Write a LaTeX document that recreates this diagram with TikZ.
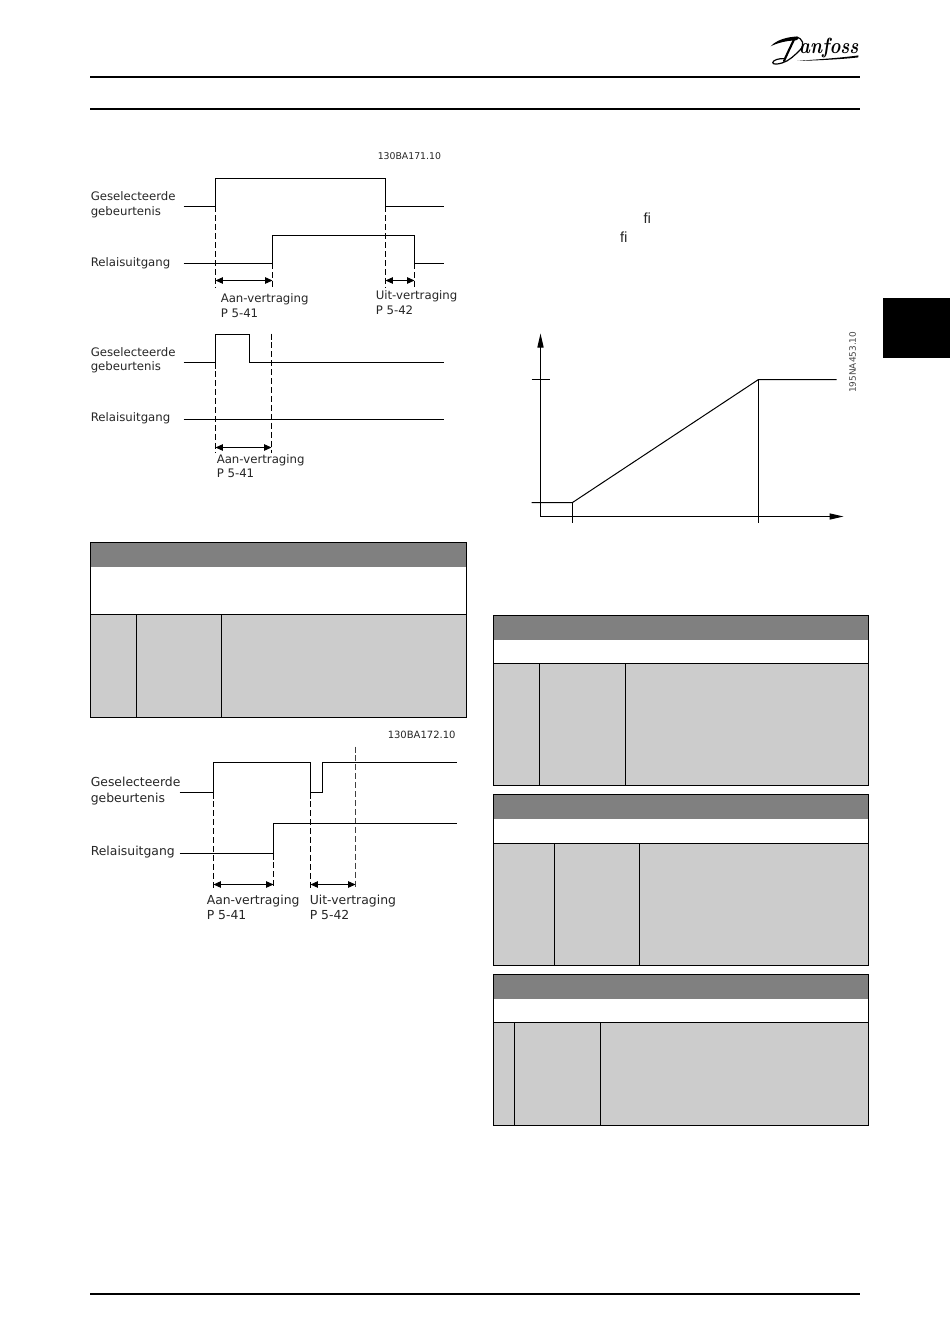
\documentclass[tikz,border=0pt]{standalone}
\usepackage{fontspec}
\setsansfont{DejaVu Sans}
\newfontfamily\ligfont{Liberation Sans}
\usetikzlibrary{arrows.meta}
\definecolor{hdrgrey}{HTML}{808080}
\definecolor{cellgrey}{HTML}{CCCCCC}
\definecolor{inkgrey}{HTML}{262626}
\tikzset{
  sig/.style={line width=0.75pt,black,line join=miter},
  dashline/.style={line width=0.6pt,black,dash pattern=on 4.5pt off 2.2pt},
  dimarrow/.style={line width=0.75pt,{Triangle[length=5.5pt,width=4.8pt]}-{Triangle[length=5.5pt,width=4.8pt]}},
  axisline/.style={line width=0.75pt,black},
  axisarrow/.style={line width=0.75pt,-{Triangle[length=10.5pt,width=4.6pt]}},
  rulebar/.style={line width=1.35pt,black},
  tabline/.style={line width=0.75pt,black},
  lab/.style={anchor=west,inner sep=0,text=inkgrey,font=\sffamily\fontsize{8.8}{10}\selectfont,text height=1.5ex,text depth=.3ex},
  labbig/.style={lab,font=\sffamily\fontsize{9.3}{10}\selectfont},
  code/.style={anchor=west,inner sep=0,text=inkgrey,font=\sffamily\fontsize{7}{8}\selectfont},
  codebig/.style={code,font=\sffamily\fontsize{7.5}{8}\selectfont},
}
\begin{document}
\begin{tikzpicture}[x=0.75pt,y=-0.75pt]
\useasboundingbox (0,0) rectangle (950,1344);
% page furniture
\draw[rulebar] (90,77) -- (859.5,77);
\draw[rulebar] (90,109) -- (859.5,109);
\draw[rulebar] (90,1294) -- (859.5,1294);
\fill[black] (883,298) rectangle (950,358);
% logo
\fill[black] (770.6,46.4) .. controls (776,40) and (788,36.5) .. (798,36.6)
  .. controls (799,38.5) and (798,40) .. (796,40.4)
  .. controls (787,40.5) and (777,43) .. (770.6,46.4) -- cycle;
\draw[line width=0.9pt,black] (796,37.2) .. controls (803,38) and (805,45) .. (800,50)
  .. controls (795,55) and (789,61) .. (782,63)
  .. controls (777,64.5) and (772.5,64.5) .. (772.8,62.6)
  .. controls (773,60) and (779,58.2) .. (785,58.6);
\draw[line width=1.6pt,black,line cap=round] (794,39.5) .. controls (791,46) and (787,54) .. (784,61);
\fill[black] (797,61) .. controls (815,59.5) and (840,58) .. (858.4,55.4) -- (858.2,57.4)
  .. controls (840,59.5) and (815,60.5) .. (797,61) -- cycle;
\node[anchor=base west,inner sep=0,xscale=.84,font=\rmfamily\fontsize{16.5}{17}\selectfont\bfseries\itshape] (logotxt) at (799,54) {anfoss};
\begin{scope}[shift={(0.5,0.5)}]
% diagram 1
\node[code] (code1) at (377,156) {130BA171.10};
\node[lab] (t1a) at (90,197) {Geselecteerde};
\node[lab] (t1b) at (90,212) {gebeurtenis};
\node[lab] (t1c) at (90,262.5) {Relaisuitgang};
\node[lab] (t1d) at (220,299) {Aan-vertraging};
\node[lab] (t1e) at (220,314) {P 5-41};
\node[lab] (t1f) at (375,296) {Uit-vertraging};
\node[lab] (t1g) at (375,311) {P 5-42};
\draw[dashline] (215,206) -- (215,288);
\draw[dashline] (272,263) -- (272,288);
\draw[dashline] (385,206) -- (385,288);
\draw[dashline] (414,263) -- (414,288);
\draw[sig] (183,206) -- (215,206) -- (215,178) -- (385,178) -- (385,206) -- (443,206);
\draw[sig] (183,263) -- (272,263) -- (272,235) -- (414,235) -- (414,263) -- (443,263);
\coordinate (d1a) at (215,280); \coordinate (d1b) at (272,280);
\coordinate (d1c) at (385,280); \coordinate (d1d) at (414,280);
\draw[dimarrow] (d1a) -- (d1b);
\draw[dimarrow] (d1c) -- (d1d);
% diagram 2
\node[lab] (t2a) at (90,353) {Geselecteerde};
\node[lab] (t2b) at (90,367) {gebeurtenis};
\node[lab] (t2c) at (90,418) {Relaisuitgang};
\node[lab] (t2d) at (216,460) {Aan-vertraging};
\node[lab] (t2e) at (216,474) {P 5-41};
\draw[dashline] (215,362) -- (215,452);
\draw[dashline] (271,333) -- (271,452);
\draw[sig] (183,362) -- (215,362) -- (215,334) -- (249,334) -- (249,362) -- (443,362);
\draw[sig] (183,419) -- (443,419);
\coordinate (d2a) at (215,447); \coordinate (d2b) at (271,447);
\draw[dimarrow] (d2a) -- (d2b);
% table 1
\fill[cellgrey] (90,614) rectangle (466,717);
\fill[hdrgrey] (90,542) rectangle (466,566);
\draw[tabline] (90,542) rectangle (466,614);
\draw[tabline] (90,614) -- (90,717) -- (466,717) -- (466,614);
\draw[tabline] (136,614) -- (136,717);
\draw[tabline] (221,614) -- (221,717);
% diagram 3
\node[codebig] (code3) at (387,734) {130BA172.10};
\node[labbig] (t3a) at (90,783) {Geselecteerde};
\node[labbig] (t3b) at (90,799) {gebeurtenis};
\node[labbig] (t3c) at (90,851.5) {Relaisuitgang};
\node[labbig] (t3d) at (206,901) {Aan-vertraging};
\node[labbig] (t3e) at (206,916) {P 5-41};
\node[labbig] (t3f) at (309,901) {Uit-vertraging};
\node[labbig] (t3g) at (309,916) {P 5-42};
\draw[dashline] (213,792) -- (213,888);
\draw[dashline] (273,853) -- (273,888);
\draw[dashline] (310,792) -- (310,888);
\draw[dashline,line width=0.8pt,black!75] (355,746) -- (355,888);
\draw[sig] (179,792) -- (213,792) -- (213,762) -- (310,762) -- (310,792) -- (322,792) -- (322,762) -- (456,762);
\draw[sig] (179,853) -- (273,853) -- (273,823) -- (456,823);
\coordinate (d3a) at (213,884); \coordinate (d3b) at (273,884);
\coordinate (d3c) at (310,884); \coordinate (d3d) at (355,884);
\draw[dimarrow] (d3a) -- (d3b);
\draw[dimarrow] (d3c) -- (d3d);
% graph
\node[anchor=center,inner sep=0,text=inkgrey,font=\ligfont\fontsize{11}{12}\selectfont] (fi1) at (646.7,218) {ﬁ};
\node[anchor=center,inner sep=0,text=inkgrey,font=\ligfont\fontsize{11}{12}\selectfont] (fi2) at (623.4,237) {ﬁ};
\coordinate (org) at (540,516);
\coordinate (ytip) at (540,333);
\coordinate (xtip) at (843,516);
\draw[axisarrow] (org) -- (ytip);
\draw[axisarrow] (org) -- (xtip);
\draw[axisline] (531,379) -- (549,379);
\draw[axisline] (531,502) -- (572,502) -- (758,379) -- (836,379);
\draw[axisline] (572,502) -- (572,522);
\draw[axisline] (758,379) -- (758,522);
\node[rotate=90,inner sep=0,text=inkgrey!85,font=\sffamily\fontsize{6.7}{8}\selectfont] (code2) at (852,361.7) {195NA453.10};
% right tables
\foreach \ya/\yb/\yc/\yd/\ca/\cb in {615/639/663/785/539/625, 794/818/843/965/554/639, 974/998/1022/1125/514/600}{
  \fill[cellgrey] (493,\yc) rectangle (868,\yd);
  \fill[hdrgrey] (493,\ya) rectangle (868,\yb);
  \draw[tabline] (493,\ya) rectangle (868,\yd);
  \draw[tabline] (493,\yc) -- (868,\yc);
  \draw[tabline] (\ca,\yc) -- (\ca,\yd);
  \draw[tabline] (\cb,\yc) -- (\cb,\yd);
}
\end{scope}
\end{tikzpicture}
\end{document}
